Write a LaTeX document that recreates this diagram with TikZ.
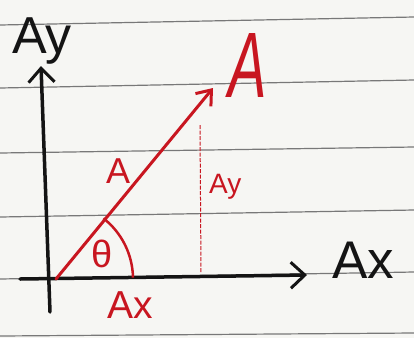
\documentclass[tikz,border=0pt]{standalone}
\usepackage{fontspec}
\setmainfont{Liberation Sans}
\usetikzlibrary{arrows.meta}
\definecolor{pen}{RGB}{200,22,32}
\definecolor{ink}{RGB}{20,20,20}
\definecolor{paper}{RGB}{246,246,243}
\definecolor{rule}{RGB}{120,120,120}
\begin{document}
\begin{tikzpicture}[x=1pt,y=-1pt,
  ruleline/.style={draw=rule,line width=1.2pt},
  axis/.style={draw=ink,line width=3.5pt,line cap=round,-{Straight Barb[length=14pt,width=26pt,line width=3pt]}},
  vec/.style={draw=pen,line width=3pt,line cap=round,-{Straight Barb[length=13pt,width=20pt,line width=3pt]}},
  redtxt/.style={text=pen,inner sep=0pt,anchor=base west},
  blktxt/.style={text=ink,inner sep=0pt,anchor=base west}]
\useasboundingbox (0,0) rectangle (414,338);
\fill[paper] (0,0) rectangle (414,338);
% ruled paper
\draw[ruleline] (0,25) -- (414,17);
\draw[ruleline] (0,88) -- (414,80);
\draw[ruleline] (0,153) -- (414,147);
\draw[ruleline] (0,217) -- (414,210);
\draw[ruleline] (0,279) -- (414,272);
\draw[ruleline] (0,336) -- (414,333);
% points
\coordinate (O) at (56,279);
\coordinate (ybot) at (50,312);
\coordinate (ytip) at (41,66);
\coordinate (xleft) at (20,279);
\coordinate (xtip) at (307,275);
\coordinate (Atip) at (213,88);
\coordinate (dtop) at (200,125);
\coordinate (dbot) at (201,273);
% axes
\draw[axis] (ybot) -- (ytip);
\draw[axis] (xleft) -- (xtip);
% projection
\draw[pen,line width=1pt,dash pattern=on 4pt off 1.5pt] (dtop) -- (dbot);
% vector
\draw[vec] (O) -- (Atip);
% angle arc
\draw[pen,line width=2.5pt] (O) ++(-1:77) arc[start angle=-1,end angle=-52,radius=77];
% labels
\node[blktxt,font=\fontsize{52}{52}\selectfont] (lay) at (12,53) {Ay};
\node[blktxt,font=\fontsize{53}{53}\selectfont] (lax) at (332,278) {Ax};
\node[redtxt,font=\fontsize{93}{93}\selectfont\itshape,xscale=0.62] (lA) at (228,97) {A};
\node[redtxt,font=\fontsize{36}{36}\selectfont] (la) at (106,183) {A};
\node[redtxt,font=\fontsize{28}{28}\selectfont] (lay2) at (209,193) {Ay};
\node[redtxt,font=\fontsize{38}{38}\selectfont] (lth) at (91,267) {θ};
\node[redtxt,font=\fontsize{39}{39}\selectfont] (lax2) at (107,318) {Ax};
\end{tikzpicture}
\end{document}
